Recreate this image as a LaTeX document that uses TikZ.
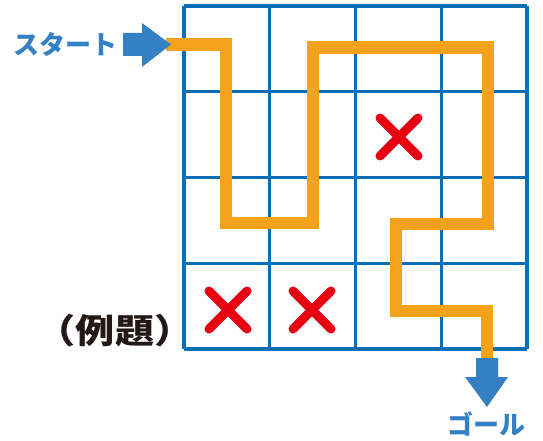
\documentclass[tikz,border=0pt]{standalone}
\usepackage{fontspec}
\usetikzlibrary{calc}
\newfontfamily\jp{Noto Sans CJK JP}
\definecolor{gridblue}{HTML}{0A6FB7}
\definecolor{arrblue}{HTML}{3480C4}
\definecolor{pathorange}{HTML}{F4A11B}
\definecolor{xred}{HTML}{E60012}
\definecolor{txtblack}{HTML}{231815}
\begin{document}
\begin{tikzpicture}[x=1pt,y=-1pt,
  gridline/.style={draw=gridblue,line width=3.2pt},
  route/.style={draw=pathorange,line width=12.5pt,line join=miter},
  cross/.style={draw=xred,line width=9pt,line cap=round},
  bigarrow/.style={fill=arrblue},
  lbl/.style={font=\jp\bfseries\fontsize{26}{26}\selectfont,text=arrblue,inner sep=0pt}]
\useasboundingbox (0,0) rectangle (543,441);
% grid
\foreach \i in {0,...,4} {
  \draw[gridline] ({184+85.75*\i},6) -- ({184+85.75*\i},349);
  \draw[gridline] (184,{6+85.75*\i}) -- (527,{6+85.75*\i});
}
% route
\coordinate (s) at (166,44.5);
\coordinate (g) at (487,360);
\draw[route] (s) -- (226,44.5) -- (226,223) -- (313,223) -- (313,47.5) -- (488,47.5)
  -- (488,224) -- (396,224) -- (396,311) -- (487,311) -- (g);
% crosses
\foreach \cx/\cy [count=\k] in {399/137, 228/310, 312/310} {
  \coordinate (x\k) at (\cx,\cy);
  \draw[cross] ($(x\k)+(-19,-19)$) -- ($(x\k)+(19,19)$);
  \draw[cross] ($(x\k)+(-19,19)$) -- ($(x\k)+(19,-19)$);
}
% start arrow
\fill[bigarrow] (123,33) -- (142,33) -- (142,23) -- (171,44.5) -- (142,67) -- (142,56) -- (123,56) -- cycle;
% goal arrow
\fill[bigarrow] (476,358) -- (498,358) -- (498,377) -- (508,377) -- (487,407) -- (465,377) -- (476,377) -- cycle;
% labels
\node[lbl] (start) at (65,44) {スタート};
\node[lbl] (goal) at (486,424) {ゴール};
\node[font=\jp\bfseries\fontsize{34}{34}\selectfont,text=txtblack,inner sep=0pt,xscale=1.15] (ex) at (115,331) {（例題）};
\end{tikzpicture}
\end{document}
